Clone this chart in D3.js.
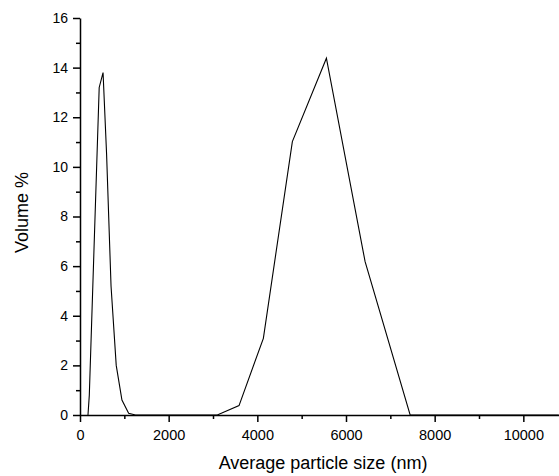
<!DOCTYPE html>
<html>
<head>
<meta charset="utf-8">
<script src="https://cdn.jsdelivr.net/npm/d3@7"></script>
<style>
  body { margin: 0; background: #fff; }
  svg text { font-family: Arial, "Liberation Sans", sans-serif; fill: #000; }
</style>
</head>
<body>
<div id="chart"></div>
<script>
// particle size (nm) and volume %
const sizes = [180, 210, 433, 520, 600, 700, 817, 946, 1097, 1250,
               3097, 3587, 4136, 4790, 5558, 6431, 7447, 10800];
const volume = [0, 0.8, 13.2, 13.8, 10.5, 5.2, 2.0, 0.6, 0.07, 0,
                0, 0.38, 3.09, 11.02, 14.38, 6.18, 0, 0];
const xMajor = [0, 2000, 4000, 6000, 8000, 10000];
const xMinor = [1000, 3000, 5000, 7000, 9000];
const yMajor = [0, 2, 4, 6, 8, 10, 12, 14, 16];
const yMinor = [1, 3, 5, 7, 9, 11, 13, 15];

const W = 559, H = 476;
const svg = d3.select('#chart').append('svg')
    .attr('width', W).attr('height', H);

const x = d3.scaleLinear().domain([0, 10800]).range([80, 558.8]);
const y = d3.scaleLinear().domain([0, 16]).range([415, 18]);

// curve
const line = d3.line().x(d => x(d[0])).y(d => y(d[1]));
svg.append('path')
    .datum(sizes.map((s, i) => [s, volume[i]]))
    .attr('d', line)
    .attr('fill', 'none')
    .attr('stroke', '#000')
    .attr('stroke-width', 1.1)
    .attr('stroke-linejoin', 'miter');

// x axis: major labelled, minor short ticks
const gx = svg.append('g').attr('transform', `translate(0,${y(0)})`);
gx.call(d3.axisBottom(x).tickValues(xMajor).tickSize(7).tickPadding(8)
        .tickFormat(d3.format('d')).tickSizeOuter(0))
    .call(g => g.selectAll('text').style('font-size', '14.5px'));
gx.append('g').call(d3.axisBottom(x).tickValues(xMinor).tickSize(4).tickFormat('').tickSizeOuter(0))
    .call(g => g.select('.domain').remove());

const gy = svg.append('g').attr('transform', `translate(${x(0)},0)`);
gy.call(d3.axisLeft(y).tickValues(yMajor).tickSize(7).tickPadding(5).tickSizeOuter(0))
    .call(g => g.selectAll('text').style('font-size', '14px'));
gy.append('g').call(d3.axisLeft(y).tickValues(yMinor).tickSize(4).tickFormat('').tickSizeOuter(0))
    .call(g => g.select('.domain').remove());

svg.selectAll('.domain, .tick line')
    .attr('stroke', '#000')
    .attr('stroke-width', 1.5);

// axis titles
svg.append('text')
    .attr('x', 323).attr('y', 469)
    .attr('text-anchor', 'middle')
    .style('font-size', '18px')
    .text('Average particle size (nm)');

svg.append('text')
    .attr('transform', 'translate(28,212.5) rotate(-90)')
    .attr('text-anchor', 'middle')
    .style('font-size', '18px')
    .text('Volume %');
</script>
</body>
</html>
